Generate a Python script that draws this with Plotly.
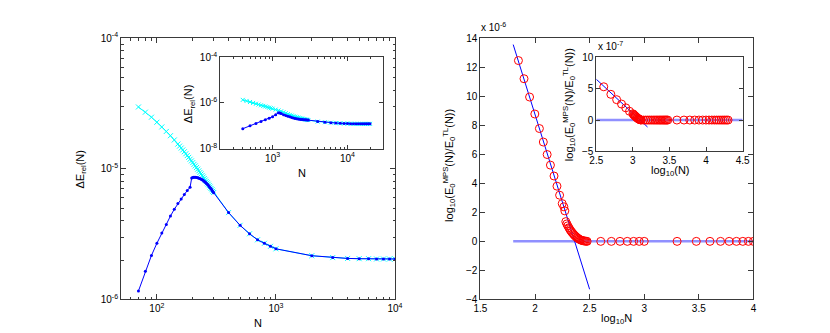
import plotly.graph_objects as go

# ---------------- data: left main panel ----------------
main_N_blue = [70, 80, 90, 100, 110, 120, 130, 140, 150, 160, 170, 180, 190,
               196, 200, 204, 208, 212, 216, 220, 224, 228, 232, 236, 240, 244, 248,
               252, 256, 260, 264, 268, 272, 276, 280, 284, 288, 292, 296, 300,
               400, 500, 600, 700, 800, 900, 1000,
               2000, 3000, 4000, 5000, 6000, 7000, 8000, 9000, 10000]
main_dE_blue = [1.16e-6, 1.64e-6, 2.17e-6, 2.69e-6, 3.22e-6, 3.75e-6, 4.35e-6, 4.90e-6,
                5.42e-6, 5.86e-6, 6.35e-6, 6.82e-6, 7.22e-6,
                8.50e-6, 8.57e-6, 8.60e-6, 8.61e-6, 8.60e-6, 8.57e-6, 8.52e-6, 8.48e-6,
                8.43e-6, 8.37e-6, 8.31e-6, 8.24e-6, 8.16e-6, 8.07e-6, 7.97e-6, 7.87e-6,
                7.76e-6, 7.65e-6, 7.53e-6, 7.41e-6, 7.29e-6, 7.17e-6, 7.05e-6, 6.93e-6,
                6.80e-6, 6.68e-6, 6.56e-6,
                4.62e-6, 3.69e-6, 3.18e-6, 2.86e-6, 2.69e-6, 2.55e-6, 2.44e-6,
                2.16e-6, 2.09e-6, 2.06e-6, 2.05e-6, 2.05e-6, 2.04e-6, 2.04e-6, 2.04e-6, 2.04e-6]

main_N_cyan = [70, 80, 90, 100, 110, 120, 130, 140, 150, 155, 160, 165, 170, 175, 180,
               185, 190, 195, 200, 205, 210, 215, 220, 225, 230, 235, 240, 245, 250,
               255, 260, 265, 270, 275, 280, 285, 290, 295, 300,
               400, 500, 600, 700, 800, 900, 1000,
               2000, 3000, 4000, 5000, 6000, 7000, 8000, 9000, 10000]
main_dE_cyan = [2.97e-5, 2.71e-5, 2.48e-5, 2.27e-5, 2.09e-5, 1.93e-5, 1.79e-5, 1.66e-5,
                1.545e-5, 1.49e-5, 1.44e-5, 1.393e-5, 1.349e-5, 1.303e-5, 1.262e-5,
                1.222e-5, 1.183e-5, 1.148e-5, 1.114e-5, 1.081e-5, 1.051e-5, 1.021e-5,
                9.93e-6, 9.64e-6, 9.37e-6, 9.13e-6, 8.89e-6, 8.65e-6, 8.42e-6, 8.20e-6,
                8.00e-6, 7.80e-6, 7.62e-6, 7.43e-6, 7.25e-6, 7.07e-6, 6.91e-6, 6.73e-6,
                6.58e-6,
                4.62e-6, 3.69e-6, 3.18e-6, 2.86e-6, 2.69e-6, 2.55e-6, 2.44e-6,
                2.16e-6, 2.09e-6, 2.06e-6, 2.05e-6, 2.05e-6, 2.04e-6, 2.04e-6, 2.04e-6, 2.04e-6]

# ---------------- data: left inset ----------------
ins_N_blue = [400, 500, 600, 700, 800, 900, 1000, 1100, 1200, 1250, 1300, 1400, 1500,
              1600, 1700, 1800, 1900, 2000, 2100, 2200, 2300, 2400, 2500, 2600, 2700,
              2800, 2900, 3000, 4000, 5000, 6000, 7000, 8000, 9000, 10000, 11000,
              12000, 13000, 14000, 15000, 16000, 17000, 18000, 19000, 20000]
ins_dE_blue = [0.74e-7, 1.00e-7, 1.26e-7, 1.55e-7, 1.82e-7, 2.14e-7, 2.50e-7, 3.05e-7,
               3.72e-7, 3.60e-7, 3.40e-7, 3.05e-7, 2.80e-7, 2.60e-7, 2.45e-7, 2.32e-7,
               2.20e-7, 2.10e-7, 2.03e-7, 1.98e-7, 1.94e-7, 1.90e-7, 1.87e-7, 1.85e-7,
               1.83e-7, 1.81e-7, 1.79e-7, 1.77e-7, 1.52e-7, 1.43e-7, 1.36e-7, 1.31e-7,
               1.28e-7, 1.26e-7, 1.24e-7, 1.23e-7, 1.22e-7, 1.22e-7, 1.21e-7, 1.21e-7,
               1.21e-7, 1.21e-7, 1.21e-7, 1.21e-7, 1.21e-7]

ins_N_cyan = [400, 450, 500, 550, 600, 650, 700, 750, 800, 850, 900, 950, 1000, 1100,
              1200, 1300, 1400, 1500, 1600, 1700, 1800, 1900, 2000, 2100, 2200, 2300,
              2400, 2500, 2600, 2700, 2800, 2900, 3000, 4000, 5000, 6000, 7000, 8000,
              9000, 10000, 11000, 12000, 13000, 14000, 15000, 16000, 17000, 18000,
              19000, 20000]
ins_dE_cyan = [13.6e-7, 12.2e-7, 11.0e-7, 10.0e-7, 9.2e-7, 8.5e-7, 7.9e-7, 7.4e-7,
               7.0e-7, 6.6e-7, 6.2e-7, 5.9e-7, 5.6e-7, 5.1e-7, 4.7e-7, 4.3e-7, 3.9e-7,
               3.55e-7, 3.25e-7, 3.0e-7, 2.8e-7, 2.62e-7, 2.5e-7, 2.38e-7, 2.27e-7,
               2.18e-7, 2.10e-7, 2.03e-7, 1.97e-7, 1.91e-7, 1.86e-7, 1.81e-7, 1.77e-7,
               1.52e-7, 1.43e-7, 1.36e-7, 1.31e-7, 1.28e-7, 1.26e-7, 1.24e-7, 1.23e-7,
               1.22e-7, 1.22e-7, 1.21e-7, 1.21e-7, 1.21e-7, 1.21e-7, 1.21e-7, 1.21e-7,
               1.21e-7]

# ---------------- data: right main panel (y in units of 1e-6) ----------------
r_logN = [1.848, 1.899, 1.950, 1.998, 2.040, 2.076, 2.111, 2.141, 2.174, 2.201, 2.225,
          2.249, 2.264, 2.273,
          2.282, 2.291, 2.300, 2.310, 2.319, 2.328, 2.337, 2.347, 2.356, 2.365, 2.375,
          2.384, 2.393, 2.402, 2.412, 2.421, 2.430, 2.440, 2.449, 2.458, 2.468, 2.477,
          2.602, 2.699, 2.778, 2.845, 2.903, 2.954, 3.000, 3.301, 3.477, 3.602, 3.699,
          3.778, 3.845, 3.903, 3.954, 4.000]
r_val = [12.45, 11.2, 9.94, 8.77, 7.77, 6.84, 5.98, 5.25, 4.50, 3.80, 3.18, 2.60, 2.38, 2.10,
         1.36, 1.20, 1.07, 0.94, 0.82, 0.72, 0.63, 0.54, 0.46, 0.39, 0.32, 0.26, 0.21,
         0.16, 0.12, 0.09, 0.06, 0.04, 0.03, 0.02, 0.01, 0.0,
         0, 0, 0, 0, 0, 0, 0, 0, 0, 0, 0, 0, 0, 0, 0, 0]
r_fit_x = [1.8, 2.5]
r_fit_y = [13.55, -3.3]
r_zero_x = [1.8, 4.0]
r_zero_y = [0, 0]

# ---------------- data: right inset (y in units of 1e-7) ----------------
ri_logN = [2.602, 2.699, 2.778, 2.845, 2.903, 2.954,
           3.000, 3.009, 3.017, 3.025, 3.033, 3.041, 3.049, 3.057, 3.064, 3.072,
           3.079, 3.086, 3.093, 3.100, 3.107, 3.114,
           3.146, 3.176, 3.204, 3.230, 3.255, 3.279, 3.301, 3.322, 3.342, 3.362,
           3.380, 3.398, 3.415, 3.431, 3.447, 3.462, 3.477,
           3.602, 3.699, 3.778, 3.845, 3.903, 3.954, 4.000, 4.041, 4.079, 4.114,
           4.146, 4.176, 4.204, 4.230, 4.255, 4.279, 4.301]
ri_val = [5.3, 4.1, 3.25, 2.55, 1.95, 1.4,
          1.0, 0.9, 0.8, 0.71, 0.62, 0.53, 0.45, 0.37, 0.30, 0.23, 0.17, 0.12, 0.08,
          0.05, 0.03, 0.01,
          0, 0, 0, 0, 0, 0, 0, 0, 0, 0, 0, 0, 0, 0, 0, 0, 0,
          0, 0, 0, 0, 0, 0, 0, 0, 0, 0, 0, 0, 0, 0, 0, 0, 0]
ri_fit_x = [2.5, 3.2]
ri_fit_y = [6.5, -1.1]
ri_zero_x = [2.5, 4.5]
ri_zero_y = [0, 0]

# ---------------- figure ----------------
W, H = 830, 333
FONT = "Liberation Sans, Arial, Helvetica, sans-serif"
AX = "#3a3a3a"
BLUE = "#0000ff"
CYAN = "#00ffff"
RED = "#ff0000"
ZERO = "#9090ff"


def dx(a, b):
    return [a / W, b / W]


def dy(top, bottom):
    return [1 - bottom / H, 1 - top / H]


fig = go.Figure()


def cyan_trace(x, y, xa, ya, size):
    return go.Scatter(x=x, y=y, xaxis=xa, yaxis=ya, mode="lines+markers",
                      line=dict(color=CYAN, width=1),
                      marker=dict(symbol="x-thin", size=size,
                                  line=dict(color=CYAN, width=1), color=CYAN),
                      showlegend=False, hoverinfo="x+y")


def blue_trace(x, y, xa, ya, size):
    return go.Scatter(x=x, y=y, xaxis=xa, yaxis=ya, mode="lines+markers",
                      line=dict(color=BLUE, width=1),
                      marker=dict(symbol="circle", size=size, color=BLUE),
                      showlegend=False, hoverinfo="x+y")


fig.add_trace(cyan_trace(main_N_cyan, main_dE_cyan, "x", "y", 5))
fig.add_trace(blue_trace(main_N_blue, main_dE_blue, "x", "y", 3))
fig.add_trace(cyan_trace(ins_N_cyan, ins_dE_cyan, "x2", "y2", 4))
fig.add_trace(blue_trace(ins_N_blue, ins_dE_blue, "x2", "y2", 3))

for (zx, zy, fx, fy, px, py, xa, ya) in [
        (r_zero_x, r_zero_y, r_fit_x, r_fit_y, r_logN, r_val, "x3", "y3"),
        (ri_zero_x, ri_zero_y, ri_fit_x, ri_fit_y, ri_logN, ri_val, "x4", "y4")]:
    fig.add_trace(go.Scatter(x=zx, y=zy, xaxis=xa, yaxis=ya, mode="lines",
                             line=dict(color=ZERO, width=2.5), showlegend=False))
    fig.add_trace(go.Scatter(x=fx, y=fy, xaxis=xa, yaxis=ya, mode="lines",
                             line=dict(color=BLUE, width=1), showlegend=False))
    fig.add_trace(go.Scatter(x=px, y=py, xaxis=xa, yaxis=ya, mode="markers",
                             marker=dict(symbol="circle-open", size=8, color=RED,
                                         line=dict(color=RED, width=1)),
                             showlegend=False))


def minor_log(d0, d1, start=2):
    vals = []
    for e in range(d0, d1):
        for k in range(start, 10):
            vals.append(k * 10 ** e)
    return vals


def sup(e):
    return "10<sup>%d</sup>" % e


common = dict(showline=True, linecolor=AX, linewidth=1, mirror="ticks",
              ticks="inside", tickcolor=AX, tickwidth=1, showgrid=False,
              zeroline=False, tickfont=dict(family=FONT, size=10, color="black"))

layout = dict(
    width=W, height=H, margin=dict(l=0, r=0, t=0, b=0),
    paper_bgcolor="white", plot_bgcolor="white", showlegend=False,
    font=dict(family=FONT, size=10, color="black"),
    xaxis=dict(domain=dx(108, 387), anchor="y", type="log", range=[1.69897, 4],
               tickvals=[100, 1000, 10000], ticktext=[sup(2), sup(3), sup(4)],
               ticklen=5,
               minor=dict(tickvals=minor_log(1, 4, 5)[:5] + minor_log(2, 4),
                          ticks="inside", ticklen=2.5, tickcolor=AX),
               **common),
    yaxis=dict(domain=dy(24, 296), anchor="x", type="log", range=[-6, -4],
               tickvals=[1e-6, 1e-5, 1e-4], ticktext=[sup(-6), sup(-5), sup(-4)],
               ticklen=5,
               minor=dict(tickvals=minor_log(-6, -4), ticks="inside", ticklen=2.5,
                          tickcolor=AX),
               **common),
    xaxis2=dict(domain=dx(209, 375), anchor="y2", type="log", range=[2.30103, 4.4771],
                tickvals=[1000, 10000], ticktext=[sup(3), sup(4)], ticklen=4,
                minor=dict(tickvals=minor_log(2, 5)[:26], ticks="inside", ticklen=2,
                           tickcolor=AX),
                **common),
    yaxis2=dict(domain=dy(44, 139), anchor="x2", type="log", range=[-8, -4],
                tickvals=[1e-8, 1e-6, 1e-4], ticktext=[sup(-8), sup(-6), sup(-4)],
                ticklen=4, **common),
    xaxis3=dict(domain=dx(474, 752), anchor="y3", range=[1.5, 4],
                tickvals=[1.5, 2, 2.5, 3, 3.5, 4], ticktext=["1.5", "2", "2.5", "3", "3.5", "4"],
                ticklen=5, **common),
    yaxis3=dict(domain=dy(24, 296), anchor="x3", range=[-4, 14],
                tickvals=[-4, -2, 0, 2, 4, 6, 8, 10, 12, 14],
                ticktext=["\u22124", "\u22122", "0", "2", "4", "6", "8", "10", "12", "14"],
                ticklen=5, **common),
    xaxis4=dict(domain=dx(592, 741), anchor="y4", range=[2.5, 4.5],
                tickvals=[2.5, 3, 3.5, 4, 4.5], ticktext=["2.5", "3", "3.5", "4", "4.5"],
                ticklen=4, **common),
    yaxis4=dict(domain=dy(44, 142), anchor="x4", range=[-5, 10],
                tickvals=[-5, 0, 5, 10], ticktext=["\u22125", "0", "5", "10"],
                ticklen=4, **common),
)
fig.update_layout(**layout)


def ann(text, x, y, angle=0, size=10, xanchor="center", yanchor="middle"):
    fig.add_annotation(text=text, x=x / W, y=1 - y / H, xref="paper", yref="paper",
                       showarrow=False, textangle=angle, xanchor=xanchor,
                       yanchor=yanchor, font=dict(family=FONT, size=size, color="black"))


ylab_r = "log<sub>10</sub>(E<sub>0</sub><sup>MPS</sup>(N)/E<sub>0</sub><sup>TL</sup>(N))"
ann("\u0394E<sub>rel</sub>(N)", 67, 160, angle=-90, size=11)
ann("N", 247, 321, size=11)
ann("\u0394E<sub>rel</sub>(N)", 178, 92, angle=-90, size=11)
ann("N", 292, 164, size=11)
ann(ylab_r, 442, 157, angle=-90, size=11)
ann("log<sub>10</sub>N", 613, 316, size=11)
ann(ylab_r, 565, 93, angle=-90, size=11)
ann("log<sub>10</sub>(N)", 668, 162, size=11)
ann("x 10<sup>-6</sup>", 473, 21, xanchor="left", yanchor="bottom")
ann("x 10<sup>-7</sup>", 592, 41, xanchor="left", yanchor="bottom")

fig.write_html("out.html")
